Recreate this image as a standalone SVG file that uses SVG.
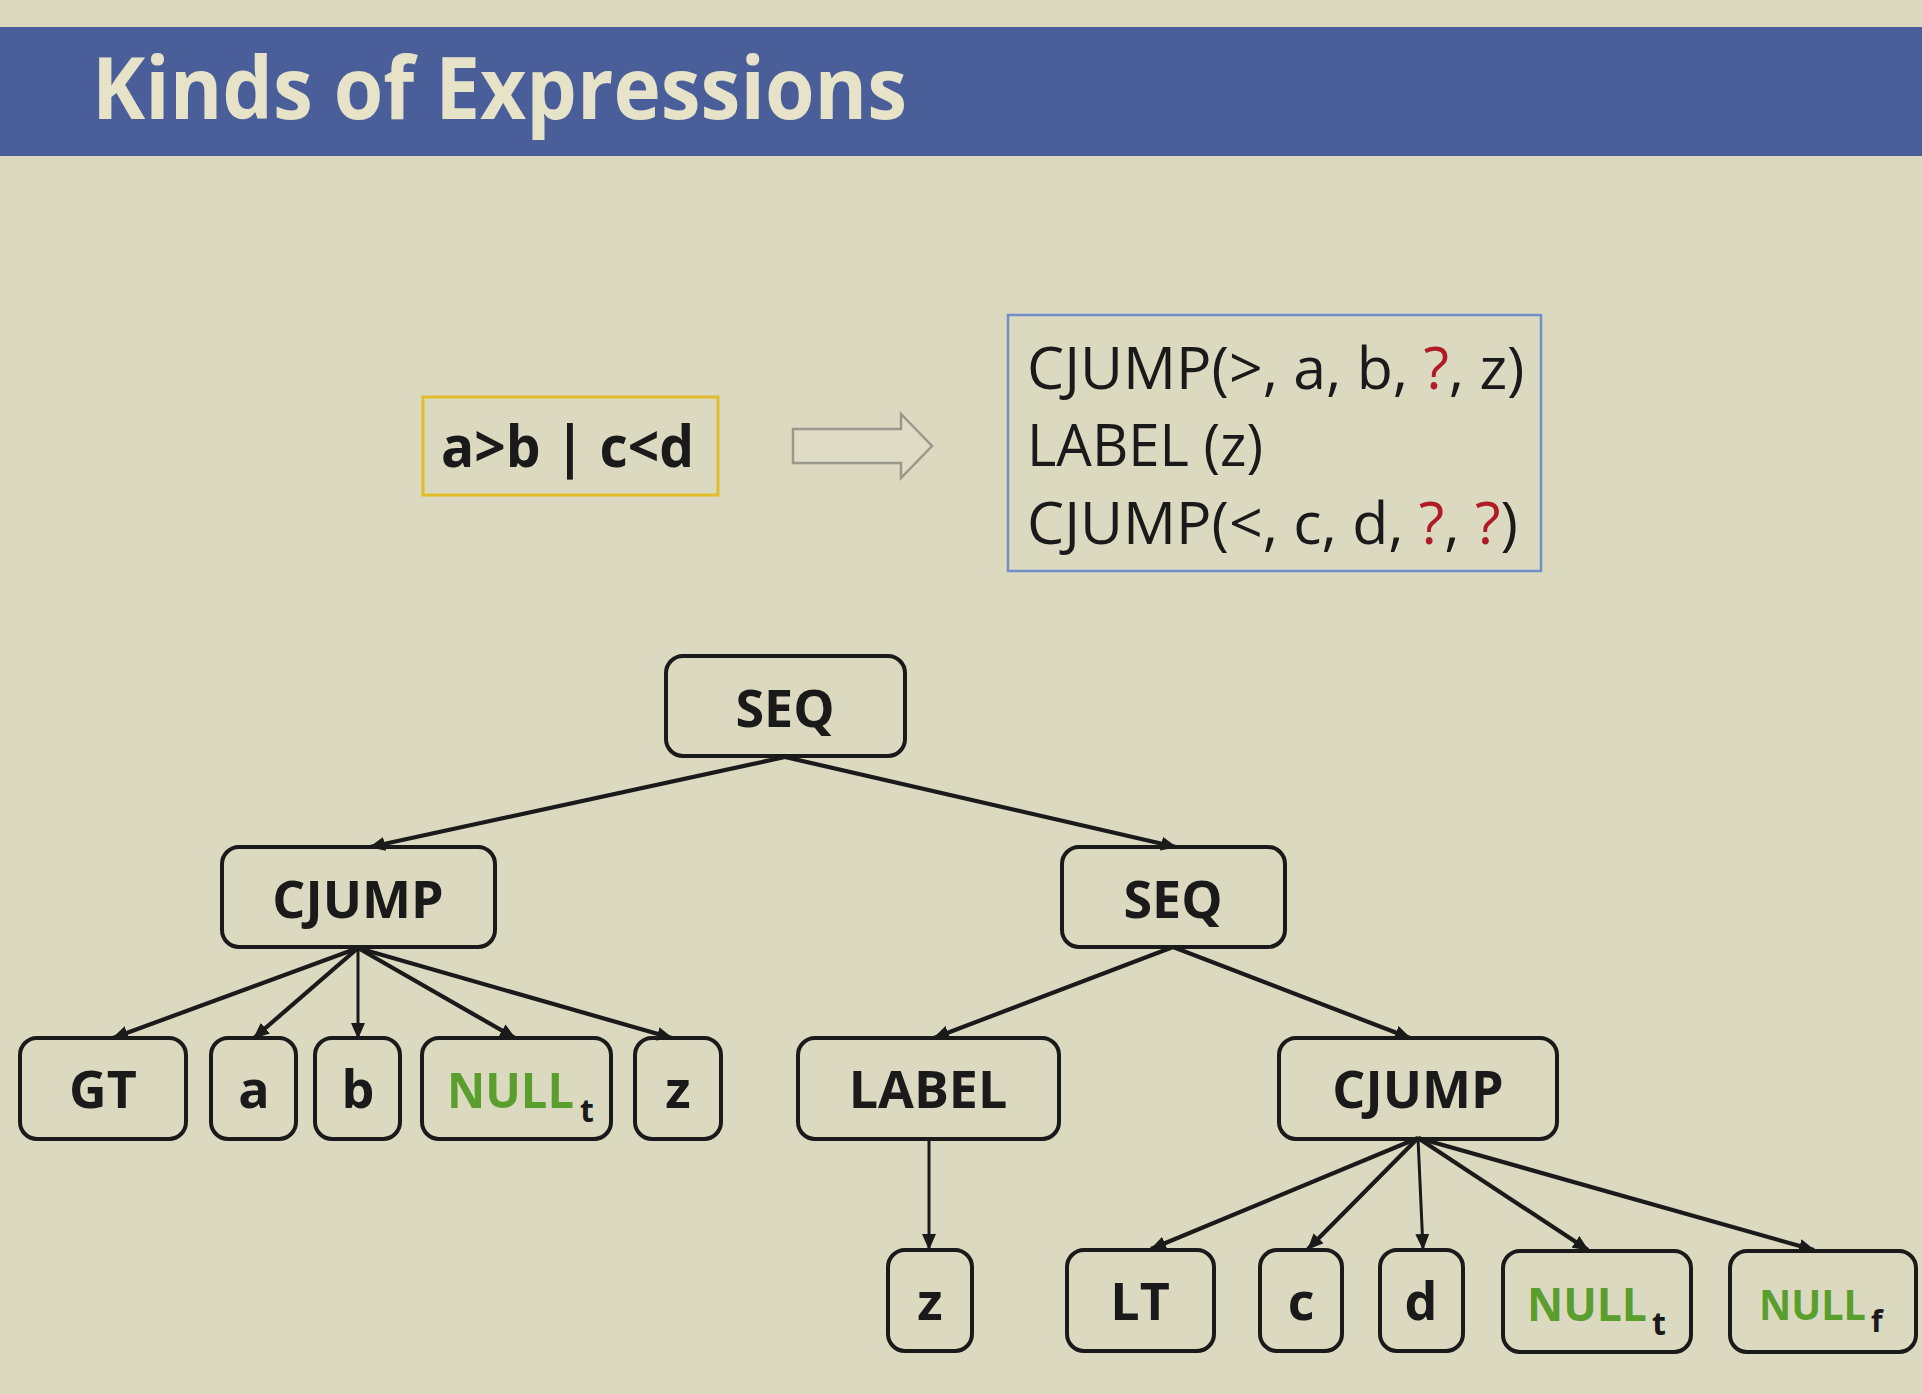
<svg xmlns="http://www.w3.org/2000/svg" width="1922" height="1394" viewBox="0 0 1922 1394">
<defs>
<marker id="ah" markerUnits="userSpaceOnUse" markerWidth="16" markerHeight="14" refX="15" refY="7" orient="auto">
<path d="M0,0 L16,7 L0,14 z" fill="#1a1a1a"/>
</marker>
<style>
.node rect{fill:none;stroke:#1a1a1a;stroke-width:4}
.lbl{font-family:"Open Sans","Noto Sans",sans-serif;font-weight:700;font-size:52px;fill:#1a1a1a;text-anchor:middle}
.nl{font-family:"Open Sans","Noto Sans",sans-serif;font-weight:700;font-size:49px;fill:#5a9e2e}
.sub{font-family:"Open Sans","Noto Sans",sans-serif;font-weight:700;font-size:32px;fill:#1a1a1a}
.edge{stroke:#1a1a1a;stroke-width:4.2;fill:none;marker-end:url(#ah)}
.code{font-family:"Open Sans","Noto Sans",sans-serif;font-size:59px;fill:#1a1a1a}
.q{fill:#b01c26}
</style>
</defs>
<rect width="1922" height="1394" fill="#dcd9c1"/>
<rect x="0" y="27" width="1922" height="129" fill="#4a5e99"/>
<text x="92" y="119" font-family="Open Sans, Noto Sans, sans-serif" font-weight="700" font-size="86" fill="#e6e3c8" textLength="815" lengthAdjust="spacingAndGlyphs">Kinds of Expressions</text>

<g id="input">
<rect x="423" y="397" width="295" height="98" fill="none" stroke="#e2bd2a" stroke-width="3"/>
<text x="441" y="467" font-family="Open Sans, Noto Sans, sans-serif" font-weight="700" font-size="58" fill="#1a1a1a" textLength="253" lengthAdjust="spacingAndGlyphs">a&gt;b | c&lt;d</text>
</g>
<g id="bigarrow">
<polygon points="793,429 901,429 901,414 932,446 901,478 901,463 793,463" fill="#dfdcc6" stroke="#9a988a" stroke-width="2.5"/>
</g>
<g id="output">
<rect x="1008" y="315" width="533" height="256" fill="none" stroke="#6f8fc8" stroke-width="2.5"/>
<text class="code" x="1027" y="389">CJUMP(&gt;, a, b, <tspan class="q">?</tspan>, z)</text>
<text class="code" x="1027" y="466" textLength="236" lengthAdjust="spacingAndGlyphs">LABEL (z)</text>
<text class="code" x="1027" y="544">CJUMP(&lt;, c, d, <tspan class="q">?</tspan>, <tspan class="q">?</tspan>)</text>
</g>

<g id="connectors">
<line class="edge" x1="785" y1="757" x2="370" y2="847"/>
<line class="edge" x1="785" y1="757" x2="1176" y2="847"/>
<line class="edge" x1="358" y1="948" x2="113" y2="1038"/>
<line class="edge" x1="358" y1="948" x2="254" y2="1038"/>
<line class="edge" x1="358" y1="948" x2="358" y2="1038" style="stroke-width:3"/>
<line class="edge" x1="358" y1="948" x2="515" y2="1038"/>
<line class="edge" x1="358" y1="948" x2="672" y2="1038"/>
<line class="edge" x1="1173" y1="947" x2="934" y2="1038"/>
<line class="edge" x1="1173" y1="947" x2="1410" y2="1038"/>
<line class="edge" x1="929" y1="1139" x2="929" y2="1249" style="stroke-width:3"/>
<line class="edge" x1="1418" y1="1138" x2="1151" y2="1249"/>
<line class="edge" x1="1418" y1="1138" x2="1308" y2="1249"/>
<line class="edge" x1="1418" y1="1138" x2="1423" y2="1249" style="stroke-width:3"/>
<line class="edge" x1="1418" y1="1138" x2="1588" y2="1250"/>
<line class="edge" x1="1418" y1="1138" x2="1814" y2="1250"/>
</g>

<g id="seq_root" class="node"><rect x="666" y="656" width="239" height="100" rx="17"/><text class="lbl" x="785" y="727">SEQ</text></g>
<g id="cjump_left" class="node"><rect x="222" y="847" width="273" height="100" rx="17"/><text class="lbl" x="358" y="918">CJUMP</text></g>
<g id="seq_right" class="node"><rect x="1062" y="847" width="223" height="100" rx="17"/><text class="lbl" x="1173" y="918">SEQ</text></g>

<g id="gt" class="node"><rect x="20" y="1038" width="166" height="101" rx="17"/><text class="lbl" x="103" y="1108">GT</text></g>
<g id="a" class="node"><rect x="211" y="1038" width="85" height="101" rx="17"/><text class="lbl" x="254" y="1108">a</text></g>
<g id="b" class="node"><rect x="315" y="1038" width="85" height="101" rx="17"/><text class="lbl" x="358" y="1108">b</text></g>
<g id="nullt_left" class="node"><rect x="422" y="1038" width="189" height="101" rx="17"/><text class="nl" x="447" y="1108" textLength="127" lengthAdjust="spacingAndGlyphs">NULL</text><text class="sub" x="580" y="1122">t</text></g>
<g id="z_left" class="node"><rect x="635" y="1038" width="86" height="101" rx="17"/><text class="lbl" x="678" y="1108">z</text></g>
<g id="label" class="node"><rect x="798" y="1038" width="261" height="101" rx="17"/><text class="lbl" x="928" y="1108">LABEL</text></g>
<g id="cjump_right" class="node"><rect x="1279" y="1038" width="278" height="101" rx="17"/><text class="lbl" x="1418" y="1108">CJUMP</text></g>

<g id="z_right" class="node"><rect x="888" y="1250" width="84" height="101" rx="17"/><text class="lbl" x="930" y="1320">z</text></g>
<g id="lt" class="node"><rect x="1067" y="1250" width="147" height="101" rx="17"/><text class="lbl" x="1140" y="1320">LT</text></g>
<g id="c" class="node"><rect x="1260" y="1250" width="82" height="101" rx="17"/><text class="lbl" x="1301" y="1320">c</text></g>
<g id="d" class="node"><rect x="1380" y="1250" width="83" height="101" rx="17"/><text class="lbl" x="1421" y="1320">d</text></g>
<g id="nullt_right" class="node"><rect x="1503" y="1251" width="188" height="101" rx="17"/><text class="nl" x="1527" y="1321" style="font-size:46px" textLength="120" lengthAdjust="spacingAndGlyphs">NULL</text><text class="sub" x="1652" y="1335">t</text></g>
<g id="nullf" class="node"><rect x="1730" y="1251" width="186" height="101" rx="17"/><text class="nl" x="1759" y="1320" style="font-size:42px" textLength="107" lengthAdjust="spacingAndGlyphs">NULL</text><text class="sub" x="1871" y="1332" style="font-size:30px">f</text></g>
</svg>
